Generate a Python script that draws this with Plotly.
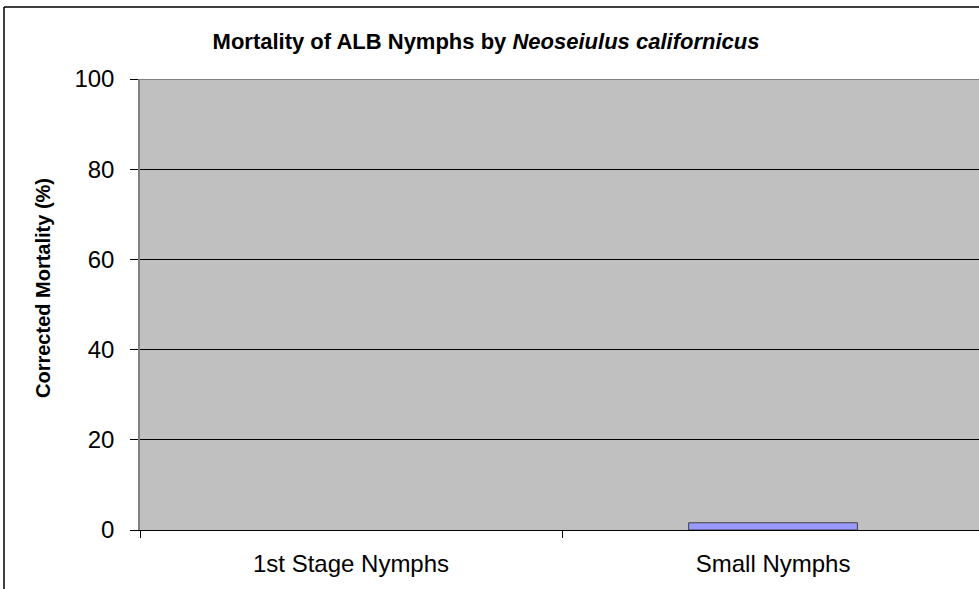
import plotly.graph_objects as go

# Data
stages = ['1st Stage Nymphs', 'Small Nymphs']
mortality = [0, 1.6]
y_ticks = [0, 20, 40, 60, 80, 100]

fig = go.Figure()
fig.add_trace(
    go.Bar(
        x=stages,
        y=mortality,
        width=0.4,
        marker_color='#9999FF',
        marker_line_color='#404040',
        # no outline on empty bars
        marker_line_width=[1 if v > 0 else 0 for v in mortality],
        showlegend=False,
    )
)

# Outer chart border (left and top only; the rest is cropped off)
top = (589 - 7 - 59) / 451
fig.add_shape(type='line', xref='paper', yref='paper',
              x0=-136/839, x1=-136/839, y0=-0.2, y1=top,
              line=dict(color='black', width=1.5))
fig.add_shape(type='line', xref='paper', yref='paper',
              x0=-136/839, x1=1.05, y0=top, y1=top,
              line=dict(color='black', width=1.5))
# Grey plot-area border at the top
fig.add_shape(type='line', xref='paper', yref='y',
              x0=0, x1=1, y0=100, y1=100,
              line=dict(color='#808080', width=2))

fig.add_annotation(
    text='<b>Corrected Mortality (%)</b>',
    xref='paper', yref='paper',
    x=(43-140)/839, y=(530-288)/451,
    xanchor='center', yanchor='middle',
    textangle=-90, showarrow=False,
    font=dict(family='Liberation Sans, Arial', size=20, color='black'),
)

fig.update_layout(
    width=979,
    height=589,
    margin=dict(l=140, r=0, t=79, b=59),
    paper_bgcolor='white',
    plot_bgcolor='#C0C0C0',
    font=dict(family='Liberation Sans, Arial', size=24, color='black'),
    title=dict(
        text='<b>Mortality of ALB Nymphs by <i>Neoseiulus californicus</i></b>',
        x=486/979, xanchor='center', xref='container',
        y=1 - 41/589, yanchor='middle',
        font=dict(size=22),
    ),
    xaxis=dict(
        type='category',
        range=[-0.5, 1.488],
        tickson='boundaries',
        ticks='outside',
        ticklen=7,
        tickcolor='black',
        showline=True,
        linecolor='black',
        linewidth=1,
        showgrid=False,
        ticklabelstandoff=12,
    ),
    yaxis=dict(
        range=[0, 100],
        tickvals=y_ticks,
        ticks='outside',
        ticklen=8,
        tickcolor='black',
        showline=True,
        linecolor='#808080',
        linewidth=1.5,
        gridcolor='black',
        gridwidth=1,
        zeroline=False,
        ticklabelstandoff=11,
    ),
)

fig.write_html('out.html', config={'displayModeBar': False},
               post_script="document.body.style.margin='0';")
